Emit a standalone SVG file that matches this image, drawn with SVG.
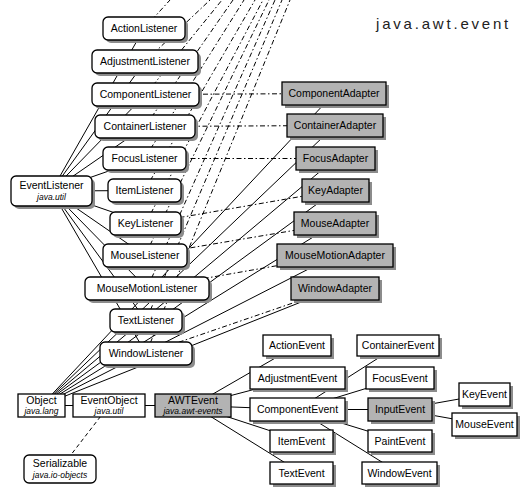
<svg xmlns="http://www.w3.org/2000/svg" width="521" height="487" viewBox="0 0 521 487">
<style>
.s{fill:#8c8c8c;stroke:none}
.b{fill:#fff;stroke:#000;stroke-width:1.3}
.g{fill:#b3b3b3;stroke:#000;stroke-width:1.3}
text{font-family:"Liberation Sans",Arial,sans-serif;font-size:10.5px;text-anchor:middle;fill:#000}
.pk{font-style:italic;font-size:8.5px}
.ttl{font-size:15px;letter-spacing:2.8px;text-anchor:start;fill:#222}
.c line{stroke:#000;stroke-width:1;fill:none}
.c .dd{stroke-dasharray:5 2.5 1.5 2.5}
.c .ds{stroke-dasharray:4 3}
</style>
<rect width="521" height="487" fill="#fff"/>
<text class="ttl" x="376" y="29">java.awt.event</text>
<g id="connectors" class="c">
<!-- listeners to top (off-page) -->
<line class="dd" x1="144" y1="28.5" x2="170" y2="0"/>
<line class="dd" x1="145" y1="61.5" x2="210" y2="0"/>
<line class="dd" x1="145.5" y1="94.5" x2="222" y2="0"/>
<line class="dd" x1="145" y1="126.5" x2="233" y2="0"/>
<line class="dd" x1="144.5" y1="158.5" x2="244" y2="0"/>
<line class="dd" x1="144.5" y1="190.5" x2="255" y2="0"/>
<line class="dd" x1="145.5" y1="223.5" x2="263" y2="0"/>
<line class="dd" x1="145" y1="255.5" x2="269" y2="0"/>
<line class="dd" x1="147" y1="288.5" x2="275" y2="0"/>
<line class="dd" x1="146" y1="320.5" x2="282" y2="0"/>
<line class="dd" x1="146" y1="353.5" x2="290" y2="0"/>
<!-- listeners to adapters -->
<line class="dd" x1="145.5" y1="94.5" x2="334" y2="93.5"/>
<line class="dd" x1="145" y1="126.5" x2="335" y2="125.5"/>
<line class="dd" x1="144.5" y1="158.5" x2="335.5" y2="158.5"/>
<line class="dd" x1="145.5" y1="223.5" x2="335.5" y2="190.5"/>
<line class="dd" x1="145" y1="255.5" x2="335" y2="223.5"/>
<line class="dd" x1="147" y1="288.5" x2="335" y2="255.5"/>
<line class="dd" x1="146" y1="353.5" x2="335" y2="288.5"/>
<!-- EventListener to listeners -->
<line x1="51.5" y1="191" x2="144" y2="28.5"/>
<line x1="51.5" y1="191" x2="145" y2="61.5"/>
<line x1="51.5" y1="191" x2="145.5" y2="94.5"/>
<line x1="51.5" y1="191" x2="145" y2="126.5"/>
<line x1="51.5" y1="191" x2="144.5" y2="158.5"/>
<line x1="51.5" y1="191" x2="144.5" y2="190.5"/>
<line x1="51.5" y1="191" x2="145.5" y2="223.5"/>
<line x1="51.5" y1="191" x2="145" y2="255.5"/>
<line x1="51.5" y1="191" x2="147" y2="288.5"/>
<line x1="51.5" y1="191" x2="146" y2="320.5"/>
<line x1="51.5" y1="191" x2="146" y2="353.5"/>
<!-- Object to adapters -->
<line x1="41.5" y1="405.5" x2="334" y2="93.5"/>
<line x1="41.5" y1="405.5" x2="335" y2="125.5"/>
<line x1="41.5" y1="405.5" x2="335.5" y2="158.5"/>
<line x1="41.5" y1="405.5" x2="335.5" y2="190.5"/>
<line x1="41.5" y1="405.5" x2="335" y2="223.5"/>
<line x1="41.5" y1="405.5" x2="335" y2="255.5"/>
<line x1="41.5" y1="405.5" x2="335" y2="288.5"/>
<!-- bottom hierarchy -->
<line x1="41.5" y1="405.5" x2="109" y2="405.5"/>
<line x1="109" y1="405.5" x2="193" y2="405.5"/>
<line class="ds" x1="109" y1="405.5" x2="60" y2="469"/>
<line x1="193" y1="405.5" x2="297" y2="345.5"/>
<line x1="193" y1="405.5" x2="297.5" y2="378"/>
<line x1="193" y1="405.5" x2="297.5" y2="409.5"/>
<line x1="193" y1="405.5" x2="301.5" y2="441"/>
<line x1="193" y1="405.5" x2="301.5" y2="473"/>
<line x1="297.5" y1="409.5" x2="398" y2="345.5"/>
<line x1="297.5" y1="409.5" x2="400" y2="378"/>
<line x1="297.5" y1="409.5" x2="400" y2="409.5"/>
<line x1="297.5" y1="409.5" x2="400" y2="441"/>
<line x1="297.5" y1="409.5" x2="399.5" y2="473"/>
<line x1="400" y1="409.5" x2="484.5" y2="394.5"/>
<line x1="400" y1="409.5" x2="484.5" y2="424.5"/>
</g>
<!-- listeners -->
<g id="ActionListener"><rect class="s" x="106" y="20" width="82" height="23" rx="5"/><rect class="b" x="103" y="17" width="82" height="23" rx="5"/><text x="144" y="32">ActionListener</text></g>
<g id="AdjustmentListener"><rect class="s" x="95" y="53" width="106" height="23" rx="5"/><rect class="b" x="92" y="50" width="106" height="23" rx="5"/><text x="145" y="65">AdjustmentListener</text></g>
<g id="ComponentListener"><rect class="s" x="95" y="86" width="107" height="23" rx="5"/><rect class="b" x="92" y="83" width="107" height="23" rx="5"/><text x="145.5" y="98">ComponentListener</text></g>
<g id="ContainerListener"><rect class="s" x="98" y="118" width="100" height="23" rx="5"/><rect class="b" x="95" y="115" width="100" height="23" rx="5"/><text x="145" y="130">ContainerListener</text></g>
<g id="FocusListener"><rect class="s" x="106" y="150" width="83" height="23" rx="5"/><rect class="b" x="103" y="147" width="83" height="23" rx="5"/><text x="144.5" y="162">FocusListener</text></g>
<g id="ItemListener"><rect class="s" x="111" y="182" width="73" height="23" rx="5"/><rect class="b" x="108" y="179" width="73" height="23" rx="5"/><text x="144.5" y="194">ItemListener</text></g>
<g id="KeyListener"><rect class="s" x="113" y="215" width="71" height="23" rx="5"/><rect class="b" x="110" y="212" width="71" height="23" rx="5"/><text x="145.5" y="227">KeyListener</text></g>
<g id="MouseListener"><rect class="s" x="106" y="247" width="84" height="23" rx="5"/><rect class="b" x="103" y="244" width="84" height="23" rx="5"/><text x="145" y="259">MouseListener</text></g>
<g id="MouseMotionListener"><rect class="s" x="88" y="280" width="124" height="23" rx="5"/><rect class="b" x="85" y="277" width="124" height="23" rx="5"/><text x="147" y="292">MouseMotionListener</text></g>
<g id="TextListener"><rect class="s" x="113" y="312" width="72" height="23" rx="5"/><rect class="b" x="110" y="309" width="72" height="23" rx="5"/><text x="146" y="324">TextListener</text></g>
<g id="WindowListener"><rect class="s" x="103" y="345" width="92" height="23" rx="5"/><rect class="b" x="100" y="342" width="92" height="23" rx="5"/><text x="146" y="357">WindowListener</text></g>
<g id="EventListener"><rect class="s" x="14" y="179" width="81" height="30" rx="5"/><rect class="b" x="11" y="176" width="81" height="30" rx="5"/><text x="51.5" y="188.5">EventListener</text><text class="pk" x="51.5" y="200">java.util</text></g>
<!-- adapters -->
<g id="ComponentAdapter"><rect class="s" x="285" y="85" width="104" height="23"/><rect class="g" x="282" y="82" width="104" height="23"/><text x="334" y="97">ComponentAdapter</text></g>
<g id="ContainerAdapter"><rect class="s" x="290" y="117" width="96" height="23"/><rect class="g" x="287" y="114" width="96" height="23"/><text x="335" y="129">ContainerAdapter</text></g>
<g id="FocusAdapter"><rect class="s" x="299" y="150" width="79" height="23"/><rect class="g" x="296" y="147" width="79" height="23"/><text x="335.5" y="162">FocusAdapter</text></g>
<g id="KeyAdapter"><rect class="s" x="305" y="182" width="67" height="23"/><rect class="g" x="302" y="179" width="67" height="23"/><text x="335.5" y="194">KeyAdapter</text></g>
<g id="MouseAdapter"><rect class="s" x="297" y="215" width="82" height="23"/><rect class="g" x="294" y="212" width="82" height="23"/><text x="335" y="227">MouseAdapter</text></g>
<g id="MouseMotionAdapter"><rect class="s" x="280" y="247" width="116" height="23"/><rect class="g" x="277" y="244" width="116" height="23"/><text x="335" y="259">MouseMotionAdapter</text></g>
<g id="WindowAdapter"><rect class="s" x="294" y="280" width="88" height="23"/><rect class="g" x="291" y="277" width="88" height="23"/><text x="335" y="292">WindowAdapter</text></g>
<!-- bottom row -->
<g id="Object"><rect class="b" x="18" y="394" width="47" height="23"/><text x="41.5" y="404">Object</text><text class="pk" x="41.5" y="414">java.lang</text></g>
<g id="EventObject"><rect class="b" x="73" y="394" width="72" height="23"/><text x="109" y="404">EventObject</text><text class="pk" x="109" y="414">java.util</text></g>
<g id="AWTEvent"><rect class="g" x="155" y="394" width="76" height="23"/><text x="193" y="404">AWTEvent</text><text class="pk" x="193" y="414">java.awt-events</text></g>
<g id="Serializable"><rect class="b" x="24" y="455" width="72" height="28" rx="5"/><text x="60" y="467">Serializable</text><text class="pk" x="60" y="478">java.io-objects</text></g>
<!-- events -->
<g id="ActionEvent"><rect class="s" x="266" y="338" width="68" height="21"/><rect class="b" x="263" y="335" width="68" height="21"/><text x="297" y="349">ActionEvent</text></g>
<g id="ContainerEvent"><rect class="s" x="360" y="338" width="82" height="21"/><rect class="b" x="357" y="335" width="82" height="21"/><text x="398" y="349">ContainerEvent</text></g>
<g id="AdjustmentEvent"><rect class="s" x="253" y="370" width="95" height="22"/><rect class="b" x="250" y="367" width="95" height="22"/><text x="297.5" y="381.5">AdjustmentEvent</text></g>
<g id="FocusEvent"><rect class="s" x="369" y="370" width="68" height="22"/><rect class="b" x="366" y="367" width="68" height="22"/><text x="400" y="381.5">FocusEvent</text></g>
<g id="ComponentEvent"><rect class="s" x="253" y="401" width="95" height="23"/><rect class="b" x="250" y="398" width="95" height="23"/><text x="297.5" y="413">ComponentEvent</text></g>
<g id="InputEvent"><rect class="s" x="371" y="401" width="64" height="23"/><rect class="g" x="368" y="398" width="64" height="23"/><text x="400" y="413">InputEvent</text></g>
<g id="KeyEvent"><rect class="s" x="462" y="386" width="51" height="23"/><rect class="b" x="459" y="383" width="51" height="23"/><text x="484.5" y="398">KeyEvent</text></g>
<g id="MouseEvent"><rect class="s" x="455" y="416" width="65" height="23"/><rect class="b" x="452" y="413" width="65" height="23"/><text x="484.5" y="428">MouseEvent</text></g>
<g id="ItemEvent"><rect class="s" x="273" y="433" width="63" height="22"/><rect class="b" x="270" y="430" width="63" height="22"/><text x="301.5" y="444.5">ItemEvent</text></g>
<g id="PaintEvent"><rect class="s" x="371" y="433" width="64" height="22"/><rect class="b" x="368" y="430" width="64" height="22"/><text x="400" y="444.5">PaintEvent</text></g>
<g id="TextEvent"><rect class="s" x="273" y="465" width="63" height="22"/><rect class="b" x="270" y="462" width="63" height="22"/><text x="301.5" y="476.5">TextEvent</text></g>
<g id="WindowEvent"><rect class="s" x="365" y="465" width="75" height="22"/><rect class="b" x="362" y="462" width="75" height="22"/><text x="399.5" y="476.5">WindowEvent</text></g>
</svg>
